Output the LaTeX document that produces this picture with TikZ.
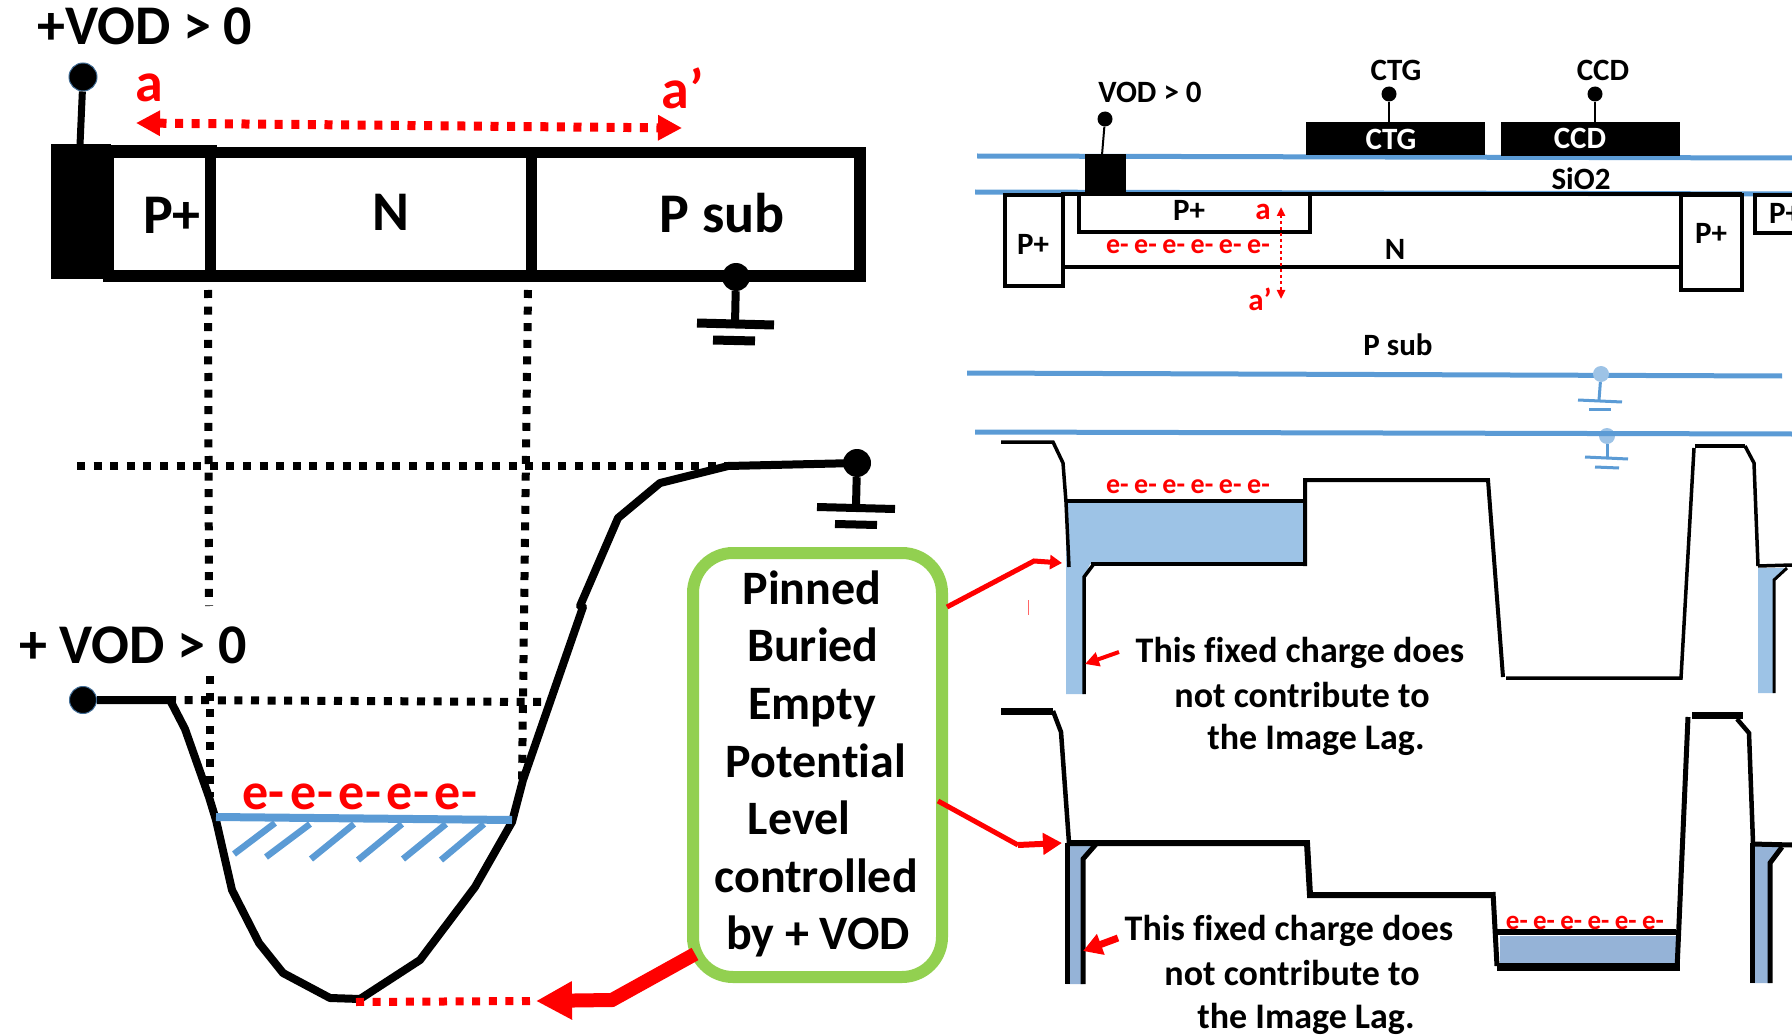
\documentclass[tikz,border=0pt]{standalone}
\usepackage{fontspec}
\setmainfont{Carlito}[Ligatures=NoCommon]
\usetikzlibrary{arrows.meta}
\newcommand\fs[1]{\fontsize{#1}{#1}\selectfont\bfseries}
\definecolor{bl}{HTML}{5B9BD5}
\definecolor{lb}{HTML}{9DC3E6}
\definecolor{mb}{HTML}{95B3D7}
\definecolor{gr}{HTML}{92D050}
\tikzset{
 txt/.style={inner sep=0pt,outer sep=0pt,anchor=center,align=center},
 big/.style={txt,font=\fs{56}},
 mid/.style={txt,font=\fs{48}},
 note/.style={txt,font=\fs{36}},
 small/.style={txt,font=\fs{31}},
 elec/.style={txt,text=red,font=\fs{28}},
 rd/.style={txt,text=red},
 termdot/.style={circle,fill=black,inner sep=0pt,minimum size=#1},
 blk/.style={fill=black,draw=none},
 wire/.style={draw=black,line width=#1,line join=miter},
 wire/.default=4,
 dots/.style={draw=black,line width=8,dash pattern=on 8 off 8.6},
 rdots/.style={draw=red,line width=8,dash pattern=on 8 off 8.6},
 bluel/.style={draw=bl,line width=#1},
 bluel/.default=5,
 redl/.style={draw=red,line width=#1},
}
\begin{document}
\begin{tikzpicture}[x=1pt,y=-1pt]
\useasboundingbox (0,0) rectangle (1792,1035);
\clip (0,0) rectangle (1792,1035);
% ---------- top-left cross section
\fill[blk] (51,144) rectangle (111,279);
\fill[blk] (111,145) rectangle (217,157);
\fill[blk] (103,147) rectangle (866,158);
\fill[blk] (103,270) rectangle (866,282);
\fill[blk] (854,147) rectangle (866,282);
\fill[blk] (205,147) rectangle (216,282);
\fill[blk] (526,147) rectangle (537,282);
\fill[blk] (103,147) rectangle (114,282);
\node[termdot=28,draw=bl!70!black,line width=1] (vodA) at (83,77) {};
\coordinate (vodAp) at (80,145);
\draw[wire=7] (vodA) -- (vodAp);
\node[big] (tVodA) at (145,26) {+VOD > 0};
\node[big,rd] (ta) at (149,88) {a};
\node[big,rd] (tap) at (683,88) {a’};
\coordinate (arA) at (136,123);
\coordinate (arB) at (682,128);
\draw[red,line width=9,dash pattern=on 8 off 8.6,{Triangle[length=24,width=24]}-{Triangle[length=24,width=24]}] (arA) -- (arB);
\node[big] (tP) at (172,215) {P+};
\node[big] (tN) at (391,212) {N};
\node[big] (tPs) at (722,213) {P sub};
\node[termdot=28] (gA) at (736,277) {};
\coordinate (gAb) at (735,324);
\draw[wire=8] (gA) -- (gAb);
\draw[wire=9] (697,323) -- (774,325);
\draw[wire=9] (713,340) -- (755,341);
% ---------- dotted guide lines
\draw[dots] (208,290) -- (209,606);
\draw[dots] (210,676) -- (210,797);
\draw[dots] (528,290) -- (522,782);
\draw[dots] (77,466) -- (731,466);
\draw[dots] (168,700) -- (544,702);
% ---------- left potential well
\node[big] (tVodB) at (133,645) {+ VOD > 0};
\node[termdot=27,draw=bl!70!black,line width=1] (vodB) at (83,700) {};
\coordinate (wS) at (170,700);
\draw[wire=8,line join=round] (vodB) -- (wS) -- (185,729) -- (209,797) -- (216,820) -- (232,890) -- (259,943) -- (283,973) -- (330,998) -- (360,999) -- (420,960) -- (475,887) -- (512,822) -- (523,780) -- (583,607) -- (580,606) -- (618,518) -- (660,483) -- (728,466) -- (857,463);
\node[termdot=28] (gB) at (857,463) {};
\coordinate (gBb) at (856,506);
\draw[wire=8] (gB) -- (gBb);
\draw[wire=8] (817,507) -- (895,509);
\draw[wire=8] (835,524) -- (877,525);
\draw[bluel=8] (216,817) -- (512,820);
\foreach \a/\b/\c/\d in {234/854/275/823,266/857/310/824,311/859/354/824,358/860/402/824,403/859/446/824,441/860/484/824}
  \draw[bluel=6.5] (\a,\b) -- (\c,\d);
\node[rd,font=\fs{52}] (eA) at (360,797) {e-\hspace{0.115em}e-\hspace{0.115em}e-\hspace{0.115em}e-\hspace{0.115em}e-};
% ---------- green box
\draw[gr,line width=12,rounded corners=40] (693,553) rectangle (942,977);
\coordinate (bx) at (817,765);
\node[mid] (l1) at (812,588) {Pinned};
\node[mid] (l2) at (813,645) {Buried};
\node[mid] (l3) at (812,708) {Empty};
\node[mid] (l4) at (816,761) {Potential};
\node[mid] (l5) at (799,818) {Level};
\node[mid] (l6) at (816,876) {controlled};
\node[mid] (l7) at (818,936) {by + VOD};
% ---------- red connectors
\coordinate (bxLow) at (695,954);
\coordinate (lowM) at (612,1000);
\coordinate (lowT) at (536,1001);
\draw[red,line width=14,-{Triangle[length=36,width=36]}] (bxLow) -- (lowM) -- (lowT);
\draw[rdots] (356,1002) -- (530,1001);
\coordinate (bxUp) at (947,607);
\coordinate (upM) at (1034,561);
\coordinate (upT) at (1062,563);
\draw[red,line width=5,-{Triangle[length=12,width=14]}] (bxUp) -- (upM) -- (upT);
\coordinate (bxMid) at (938,801);
\coordinate (midM) at (1018,845);
\coordinate (midT) at (1062,843);
\draw[red,line width=5] (bxMid) -- (midM);
\draw[red,line width=6,-{Triangle[length=19,width=21]}] (midM) -- (midT);
\draw[red!60,line width=0.8] (1028,600) -- (1028,615);
% ---------- top-right cross section
\draw[bluel] (977,156) -- (1792,158);
\draw[bluel] (975,192) -- (1792,194);
\draw[bluel] (967,373) -- (1782,376);
\fill[blk] (1085,154) rectangle (1126,194);
\node[termdot=15] (vodC) at (1105,119) {};
\coordinate (vodCb) at (1102,155);
\draw[wire=2] (vodC) -- (vodCb);
\node[small] (tVodC) at (1150,92) {VOD > 0};
\fill[blk] (1306,122) rectangle (1485,155);
\fill[blk] (1501,122) rectangle (1680,156);
\node[small,text=white] (tCtgI) at (1391,139) {CTG};
\node[small,text=white] (tCcdI) at (1580,138) {CCD};
\node[small] (tCtgO) at (1396,70) {CTG};
\node[small] (tCcdO) at (1603,70) {CCD};
\node[termdot=15] (dCtg) at (1389,94) {};
\node[termdot=15] (dCcd) at (1595,94) {};
\coordinate (bCtg) at (1389,123);
\coordinate (bCcd) at (1595,123);
\draw[wire=2] (dCtg) -- (bCtg);
\draw[wire=2] (dCcd) -- (bCcd);
\node[small] (tSi) at (1581,179) {SiO2};
\draw[wire=3.5] (1005,195) rectangle (1063,286);
\draw[wire=3.5] (1681,195) rectangle (1742,290);
\draw[wire=3.5] (1792,195) -- (1755,195) -- (1755,233) -- (1792,233);
\draw[wire=3.5] (1061,194) -- (1742,194);
\draw[wire=3.5] (1065,267) -- (1680,267);
\draw[wire=3.5] (1079,194) -- (1079,232) -- (1310,232) -- (1310,194);
\node[small] (tP1) at (1033,244) {P+};
\node[small] (tP2) at (1189,210) {P+};
\node[small] (tP3) at (1711,233) {P+};
\node[small,anchor=west] (tP4) at (1769,213) {P+};
\node[small] (tN2) at (1395,249) {N};
\node[small] (tPs2) at (1398,345) {P sub};
\node[small,rd] (ta2) at (1263,212) {a};
\node[small,rd] (tap2) at (1260,299) {a’};
\node[elec] (eB) at (1188,247) {e-\hspace{0.2em}e-\hspace{0.2em}e-\hspace{0.2em}e-\hspace{0.2em}e-\hspace{0.2em}e-};
\coordinate (vA) at (1281,207);
\coordinate (vB) at (1281,299);
\draw[red,line width=2.5,dash pattern=on 3 off 3,{Triangle[length=9,width=8]}-{Triangle[length=9,width=8]}] (vA) -- (vB);
% blue grounds
\node[circle,fill=lb,inner sep=0pt,minimum size=16] (gC) at (1601,374) {};
\coordinate (gCb) at (1599,400);
\draw[bluel=3] (gC) -- (gCb);
\draw[bluel=3] (1578,400) -- (1622,402);
\draw[bluel=3] (1589,409) -- (1611,409);
\node[circle,fill=lb,inner sep=0pt,minimum size=16] (gD) at (1607,436) {};
\coordinate (gDb) at (1607,458);
\draw[bluel=3] (gD) -- (gDb);
\draw[bluel=3] (1585,457) -- (1628,459);
\draw[bluel=3] (1595,467) -- (1619,468);
\draw[bluel] (975,432) -- (1792,434);
% ---------- upper right potential
\fill[lb] (1066,502) -- (1305,502) -- (1305,564) -- (1090,564) -- (1084,577) -- (1084,694) -- (1066,694) -- cycle;
\fill[lb] (1758,568) -- (1787,568) -- (1774,580) -- (1774,693) -- (1758,693) -- cycle;
\draw[wire=3.5] (1001,442) -- (1053,442) -- (1063,463) -- (1066,502) -- (1069,567);
\draw[wire=4] (1066,501) -- (1305,501);
\draw[wire=4] (1091,564) -- (1305,564);
\draw[wire=4] (1305,566) -- (1305,480) -- (1488,480) -- (1503,677);
\draw[wire=3.5] (1093,565) -- (1084,577) -- (1084,694);
\draw[wire=3.5] (1506,678) -- (1681,678) -- (1694,448);
\draw[wire=4] (1695,446) -- (1745,446);
\draw[wire=3.5] (1745,446) -- (1754,463) -- (1758,566);
\draw[wire=3.5] (1758,566) -- (1792,565);
\draw[wire=3] (1787,568) -- (1774,580) -- (1774,693);
\node[elec] (eC) at (1188,487) {e-\hspace{0.2em}e-\hspace{0.2em}e-\hspace{0.2em}e-\hspace{0.2em}e-\hspace{0.2em}e-};
% ---------- lower right potential
\fill[mb] (1068,843) -- (1097,843) -- (1083,859) -- (1083,984) -- (1066,984) -- cycle;
\fill[mb] (1500,936) rectangle (1676,963);
\fill[mb] (1752,845) -- (1782,847) -- (1770,863) -- (1770,983) -- (1750,983) -- cycle;
\draw[wire=7] (1001,711) -- (1053,711);
\draw[wire=4.5] (1053,711) -- (1061,732) -- (1069,843);
\draw[wire=6] (1067,843) -- (1307,843) -- (1310,895) -- (1493,895);
\draw[wire=5] (1493,892) -- (1497,966);
\draw[wire=6] (1496,932) -- (1676,932);
\draw[wire=8] (1497,967) -- (1680,967);
\draw[wire=5] (1677,970) -- (1688,717);
\draw[wire=7] (1692,715) -- (1743,715);
\draw[wire=4.5] (1737,719) -- (1749,733) -- (1753,843);
\draw[wire=5] (1752,844) -- (1792,845);
\draw[wire=5] (1067,843) -- (1067,984);
\draw[wire=5] (1097,843) -- (1083,859) -- (1083,984);
\draw[wire=5] (1752,843) -- (1752,983);
\draw[wire=5] (1782,847) -- (1770,863) -- (1770,983);
\node[txt,text=red,font=\fs{27}] (eD) at (1585,923) {e-\hspace{0.2em}e-\hspace{0.2em}e-\hspace{0.2em}e-\hspace{0.2em}e-\hspace{0.2em}e-};
% ---------- notes
\node[note] (n1) at (1300,653) {This fixed charge does};
\node[note] (n2) at (1302,695) {not contribute to};
\node[note] (n3) at (1316,740) {the Image Lag.};
\node[note] (n4) at (1289,931) {This fixed charge does};
\node[note] (n5) at (1292,973) {not contribute to};
\node[note] (n6) at (1306,1019) {the Image Lag.};
\coordinate (fa) at (1119,652);
\coordinate (fb) at (1085,664);
\draw[red,line width=4,-{Triangle[length=14,width=14]}] (fa) -- (fb);
\coordinate (fc) at (1118,938);
\coordinate (fd) at (1083,951);
\draw[red,line width=7,-{Triangle[length=19,width=21]}] (fc) -- (fd);
\end{tikzpicture}
\end{document}
